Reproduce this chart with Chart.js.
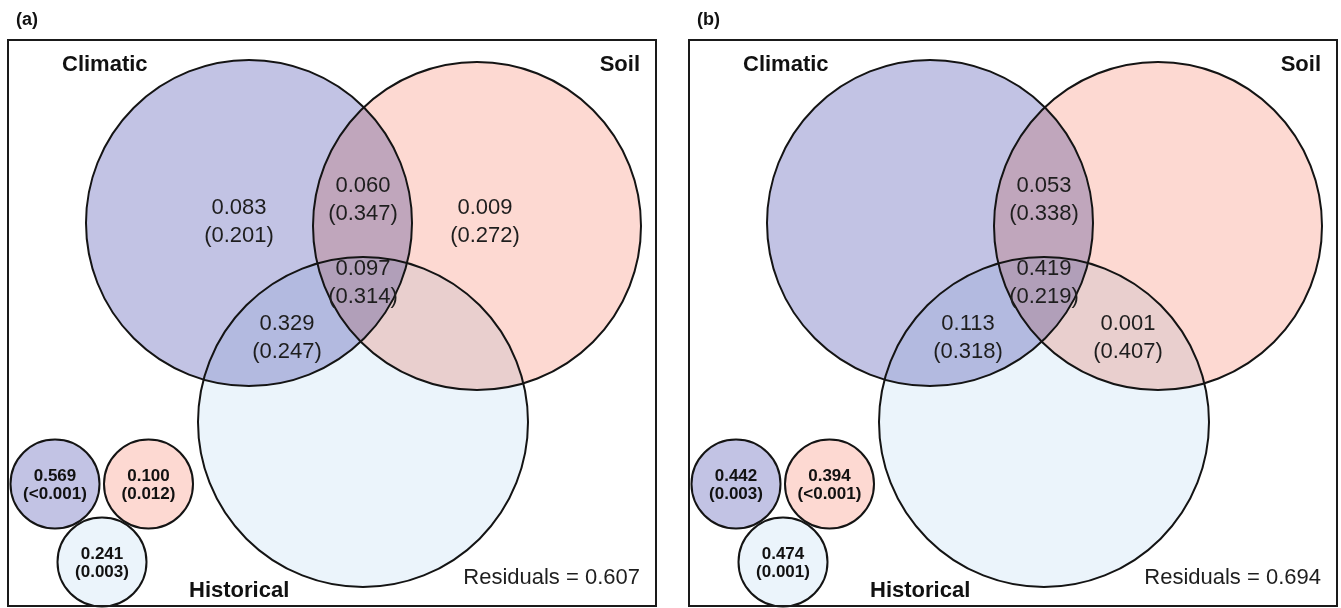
<!DOCTYPE html>
<html><head><meta charset="utf-8">
<script src="https://cdn.jsdelivr.net/npm/chart.js@4"></script>
<style>html,body{margin:0;padding:0;background:#fff}#wrap{position:relative;width:1341px;height:608px}</style>
</head><body><div id="wrap"><canvas id="c"></canvas></div>
<script>
// ---------- data ----------
const panelLabels = ['(a)', '(b)'];
const setNames = ['Climatic', 'Soil', 'Historical'];
const regionKeys = ['C', 'CS', 'S', 'CSH', 'CH', 'SH'];
const fractionsA = ['0.083', '0.060', '0.009', '0.097', '0.329', null];
const pValuesA   = ['0.201', '0.347', '0.272', '0.314', '0.247', null];
const fractionsB = [null, '0.053', null, '0.419', '0.113', '0.001'];
const pValuesB   = [null, '0.338', null, '0.219', '0.318', '0.407'];
const totalsA = ['0.569', '0.100', '0.241'];
const totalPA = ['<0.001', '0.012', '0.003'];
const totalsB = ['0.442', '0.394', '0.474'];
const totalPB = ['0.003', '<0.001', '0.001'];
const residuals = ['0.607', '0.694'];

// ---------- layout (panel-local units) ----------
const PANEL_ORIGINS = [{x: 8, y: 40}, {x: 689, y: 40}];
const BOX = {w: 648, h: 566};
const BIG = [{x: 241, y: 183, r: 163}, {x: 469, y: 186, r: 164}, {x: 355, y: 382, r: 165}];
const SMALL = [{x: 47, y: 444, r: 44.5}, {x: 140.5, y: 444, r: 44.5}, {x: 94, y: 522, r: 44.5}];
const REGION_POS = {C: {x: 231, y: 182}, CS: {x: 355, y: 160}, S: {x: 477, y: 182},
                    CSH: {x: 355, y: 243}, CH: {x: 279, y: 298}, SH: {x: 439, y: 298}};
const NAME_POS = [{x: 54, y: 25, align: 'left'}, {x: 632, y: 25, align: 'right'}, {x: 181, y: 551, align: 'left'}];
const FILLS = ['#c2c3e4', '#fdd9d2', '#ebf4fb'];
const FONT = '"Liberation Sans", Arial, Helvetica, sans-serif';

const panels = [
  {label: panelLabels[0], fr: fractionsA, pv: pValuesA, tot: totalsA, totp: totalPA, res: residuals[0]},
  {label: panelLabels[1], fr: fractionsB, pv: pValuesB, tot: totalsB, totp: totalPB, res: residuals[1]}
];

function pxR(chart, r) {
  const s = chart.scales.x;
  return Math.abs(s.getPixelForValue(r) - s.getPixelForValue(0));
}
const radiusFn = ctx => (ctx.raw && ctx.raw.r !== undefined) ? pxR(ctx.chart, ctx.raw.r) : 0;

const datasets = [];
panels.forEach((p, i) => {
  const o = PANEL_ORIGINS[i];
  const big = BIG.map(c => ({x: o.x + c.x, y: o.y + c.y, r: c.r}));
  const small = SMALL.map(c => ({x: o.x + c.x, y: o.y + c.y, r: c.r}));
  datasets.push({label: 'outline' + i, data: big, showLine: false, order: 0,
    pointRadius: radiusFn, pointBackgroundColor: 'rgba(0,0,0,0)', pointBorderColor: '#141414', pointBorderWidth: 2});
  datasets.push({label: 'fill' + i, data: big, showLine: false, order: 5, blend: true,
    pointRadius: radiusFn, pointBackgroundColor: FILLS, pointBorderColor: 'rgba(0,0,0,0)', pointBorderWidth: 0});
  datasets.push({label: 'totals' + i, data: small, showLine: false, order: 1,
    pointRadius: radiusFn, pointBackgroundColor: FILLS, pointBorderColor: '#141414', pointBorderWidth: 2});
});

const vennPlugin = {
  id: 'venn',
  beforeDraw(chart) {
    const c = chart.ctx;
    c.save(); c.fillStyle = '#fff'; c.fillRect(0, 0, chart.width, chart.height); c.restore();
  },
  beforeDatasetDraw(chart, args) {
    if (chart.data.datasets[args.index].blend) { chart.ctx.save(); chart.ctx.globalCompositeOperation = 'multiply'; }
  },
  afterDatasetDraw(chart, args) {
    if (chart.data.datasets[args.index].blend) chart.ctx.restore();
  },
  afterDatasetsDraw(chart) {
    const c = chart.ctx, X = chart.scales.x, Y = chart.scales.y;
    const px = v => X.getPixelForValue(v), py = v => Y.getPixelForValue(v);
    c.save();
    panels.forEach((p, i) => {
      const o = PANEL_ORIGINS[i];
      // box
      c.strokeStyle = '#1a1a1a'; c.lineWidth = 2;
      c.strokeRect(px(o.x), py(o.y), px(o.x + BOX.w) - px(o.x), py(o.y + BOX.h) - py(o.y));
      // panel label
      c.fillStyle = '#111'; c.textBaseline = 'middle'; c.textAlign = 'left';
      c.font = 'bold 18px ' + FONT;
      c.fillText(p.label, px(o.x + 8), py(o.y - 20));
      // set names
      c.font = 'bold 22px ' + FONT;
      setNames.forEach((n, k) => {
        const q = NAME_POS[k];
        c.textAlign = q.align;
        c.fillText(n, px(o.x + q.x), py(o.y + q.y));
      });
      // region labels
      c.font = '22px ' + FONT; c.textAlign = 'center'; c.fillStyle = '#1e1e1e';
      regionKeys.forEach((k, j) => {
        if (p.fr[j] === null) return;
        const q = REGION_POS[k];
        c.fillText(p.fr[j], px(o.x + q.x), py(o.y + q.y - 14));
        c.fillText('(' + p.pv[j] + ')', px(o.x + q.x), py(o.y + q.y + 14));
      });
      // totals
      c.font = 'bold 17px ' + FONT; c.fillStyle = '#111';
      SMALL.forEach((s, j) => {
        c.fillText(p.tot[j], px(o.x + s.x), py(o.y + s.y - 8));
        c.fillText('(' + p.totp[j] + ')', px(o.x + s.x), py(o.y + s.y + 10));
      });
      // residuals
      c.font = '22px ' + FONT; c.textAlign = 'right'; c.fillStyle = '#1e1e1e';
      c.fillText('Residuals = ' + p.res, px(o.x + 632), py(o.y + 538));
    });
    c.restore();
  }
};

new Chart(document.getElementById('c'), {
  type: 'scatter',
  data: {datasets},
  options: {
    responsive: true, maintainAspectRatio: false, animation: false, events: [],
    layout: {padding: 0},
    plugins: {legend: {display: false}, tooltip: {enabled: false}, title: {display: false}},
    scales: {
      x: {type: 'linear', min: 0, max: 1341, display: false},
      y: {type: 'linear', min: 0, max: 608, reverse: true, display: false}
    }
  },
  plugins: [vennPlugin]
});
</script></body></html>
